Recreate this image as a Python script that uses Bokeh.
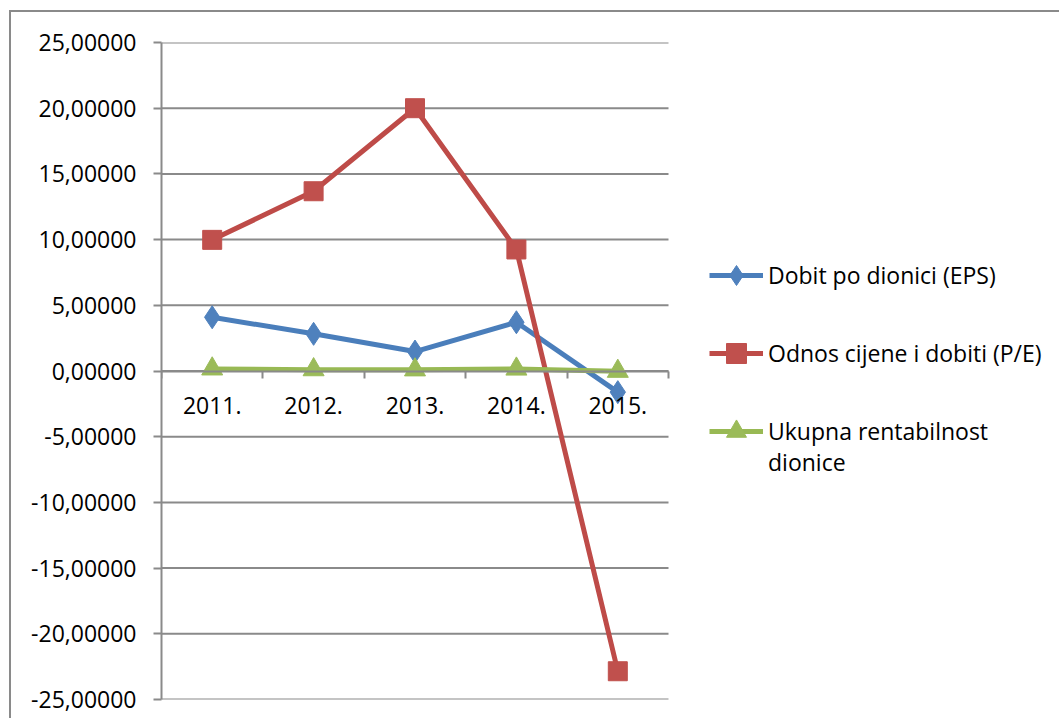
from bokeh.plotting import figure
from bokeh.models import (Range1d, FixedTicker, LinearAxis,
                          Legend, LegendItem, ColumnDataSource)
from bokeh.embed import file_html
from bokeh.resources import INLINE

# ---- data ----
years = ["2011.", "2012.", "2013.", "2014.", "2015."]
eps = [4.09, 2.83, 1.48, 3.71, -1.61]
pe = [9.98, 13.68, 20.0, 9.25, -22.85]
ukupna = [0.16, 0.10, 0.09, 0.15, -0.02]
series_names = ["Dobit po dionici (EPS)", "Odnos cijene i dobiti (P/E)",
                "Ukupna rentabilnost dionice"]
y_ticks = [-25, -20, -15, -10, -5, 0, 5, 10, 15, 20, 25]
y_tick_labels = ["-25,00000", "-20,00000", "-15,00000", "-10,00000", "-5,00000", "0,00000",
                 "5,00000", "10,00000", "15,00000", "20,00000", "25,00000"]

FONT = "Open Sans"
FS = "23px"
GRAY = "#8a8a8a"

n = len(years)
xc = [i + 0.5 for i in range(n)]          # category centres on a 0..n band scale
src = ColumnDataSource(dict(x=xc, eps=eps, pe=pe, uk=ukupna))

W, H = 1050, 708
BL, BT, BB = 150, 30, 21
FRAME_W = W - BL                 # frame spans plot + legend area
PLOT_W = 507                     # pixel width of the category area
x_end = n * FRAME_W / PLOT_W

p = figure(width=W, height=H, x_range=Range1d(0, x_end),
           y_range=Range1d(-25, 25), output_backend="svg", toolbar_location=None,
           min_border_left=BL, min_border_right=0, min_border_top=BT, min_border_bottom=BB,
           x_axis_location=None, y_axis_location=None)
p.outline_line_color = None
p.background_fill_color = "white"
p.border_fill_color = "white"
p.styles = {"border-left": "2px solid #8a8a8a", "border-top": "2px solid #8a8a8a",
            "margin-left": "9px", "margin-top": "10px"}

# horizontal gridlines limited to the category area
p.xgrid.grid_line_color = None
p.ygrid.grid_line_color = None
p.segment(x0=[0] * len(y_ticks), y0=y_ticks, x1=[n] * len(y_ticks), y1=y_ticks,
          line_color=GRAY, line_width=2)

# y axis
yax = LinearAxis(ticker=FixedTicker(ticks=y_ticks),
                 major_label_overrides={t: l for t, l in zip(y_ticks, y_tick_labels)})
yax.axis_line_color = GRAY
yax.axis_line_width = 2
yax.major_tick_line_color = GRAY
yax.major_tick_line_width = 2
yax.major_tick_out = 8
yax.major_tick_in = 0
yax.minor_tick_line_color = None
yax.major_label_standoff = 17
yax.major_label_text_font = FONT
yax.major_label_text_font_size = FS
yax.major_label_text_color = "black"
p.add_layout(yax, "left")

# category labels at zero line
xax = LinearAxis(fixed_location=0, ticker=FixedTicker(ticks=xc),
                 major_label_overrides={c: y for c, y in zip(xc, years)}, bounds=(0, n))
xax.axis_line_color = None
xax.major_tick_line_color = None
xax.minor_tick_line_color = None
xax.major_label_standoff = 20
xax.major_label_text_font = FONT
xax.major_label_text_font_size = FS
xax.major_label_text_color = "black"
p.add_layout(xax, "below")

# tick marks at category boundaries
tax = LinearAxis(fixed_location=0, ticker=FixedTicker(ticks=list(range(n + 1))), bounds=(0, n))
tax.axis_line_color = GRAY
tax.axis_line_width = 2
tax.major_tick_line_color = GRAY
tax.major_tick_line_width = 2
tax.major_tick_out = 7
tax.major_tick_in = 0
tax.minor_tick_line_color = None
tax.major_label_text_font_size = "0px"
tax.major_label_text_alpha = 0
p.add_layout(tax, "below")

# series
l1 = p.line("x", "eps", source=src, line_color="#4A7EBB", line_width=5)
m1 = p.scatter("x", "eps", source=src, marker="diamond", size=23, fill_color="#4F81BD",
               line_color="#4F81BD")
l2 = p.line("x", "pe", source=src, line_color="#BE4B48", line_width=5)
m2 = p.scatter("x", "pe", source=src, marker="square", size=19, fill_color="#C0504D",
               line_color="#C0504D")
l3 = p.line("x", "uk", source=src, line_color="#98B954", line_width=5)
m3 = p.scatter("x", "uk", source=src, marker="triangle", size=21, fill_color="#9BBB59",
               line_color="#9BBB59")

# the third name wraps onto a second line, as in the reference
words = series_names[2].split(" ")
first_line, second_line = " ".join(words[:2]), " ".join(words[2:])

def style_legend(lg, gh):
    lg.border_line_color = None
    lg.background_fill_alpha = 0
    lg.padding = 0
    lg.margin = 0
    lg.glyph_width = 54
    lg.glyph_height = gh
    lg.label_height = 30
    lg.label_standoff = 5
    lg.label_text_font = FONT
    lg.label_text_font_size = FS
    lg.label_text_color = "black"

legend = Legend(items=[LegendItem(label=series_names[0], renderers=[l1, m1]),
                       LegendItem(label=series_names[1], renderers=[l2, m2]),
                       LegendItem(label=first_line, renderers=[l3, m3])],
                location=(548, 243), orientation="vertical")
style_legend(legend, 50)
legend.spacing = 28
p.add_layout(legend, "center")

blank = p.line(x=[], y=[], line_alpha=0)
legend2 = Legend(items=[LegendItem(label=second_line, renderers=[blank])],
                 location=(548, 221), orientation="vertical")
style_legend(legend2, 30)
p.add_layout(legend2, "center")

open("out.html", "w").write(file_html(p, INLINE))
